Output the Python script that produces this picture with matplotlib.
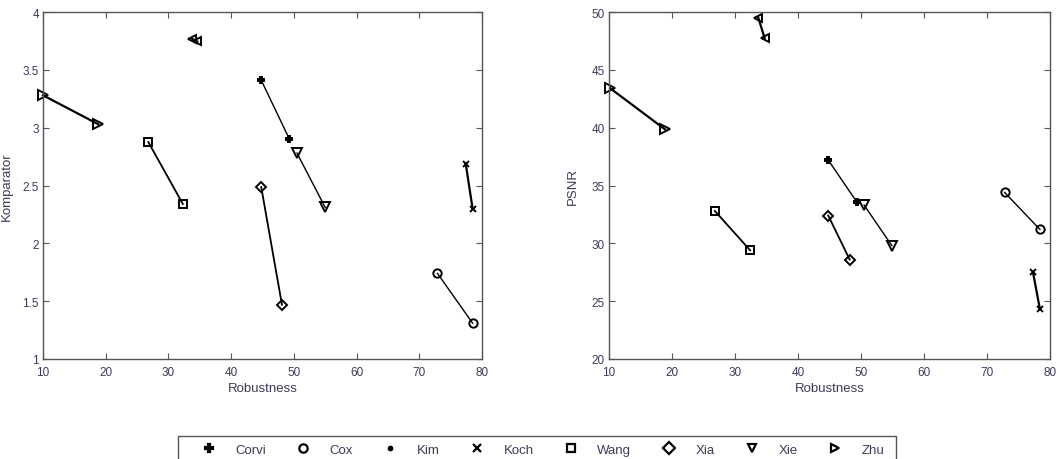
import matplotlib
matplotlib.use("Agg")
import matplotlib.pyplot as plt
from matplotlib.lines import Line2D
from matplotlib.patches import Rectangle

plt.rcParams['font.family'] = ['Liberation Sans', 'DejaVu Sans']

methods = ["Corvi", "Cox", "Kim", "Koch", "Wang", "Xia", "Xie", "Zhu"]

# robustness (x) start/end for each method, both panels
rob_left = {
    "Corvi": [44.8, 49.3], "Cox": [72.9, 78.5], "Kim": [33.7, 34.6], "Koch": [77.4, 78.5],
    "Wang": [26.8, 32.3], "Xia": [44.8, 48.1], "Xie": [50.5, 55.0], "Zhu": [10.0, 18.8],
}
komparator = {
    "Corvi": [3.41, 2.90], "Cox": [1.74, 1.31], "Kim": [3.77, 3.745], "Koch": [2.69, 2.30],
    "Wang": [2.875, 2.34], "Xia": [2.486, 1.47], "Xie": [2.78, 2.31], "Zhu": [3.28, 3.03],
}
rob_right = {
    "Corvi": [44.8, 49.3], "Cox": [72.8, 78.4], "Kim": [33.7, 34.7], "Koch": [77.3, 78.4],
    "Wang": [26.8, 32.4], "Xia": [44.8, 48.2], "Xie": [50.5, 54.9], "Zhu": [10.2, 18.9],
}
psnr = {
    "Corvi": [37.2, 33.6], "Cox": [34.4, 31.2], "Kim": [49.5, 47.75], "Koch": [27.5, 24.3],
    "Wang": [32.8, 29.4], "Xia": [32.4, 28.6], "Xie": [33.3, 29.8], "Zhu": [43.4, 39.85],
}

x_ticks = [10, 20, 30, 40, 50, 60, 70, 80]
y_ticks_left = [1, 1.5, 2, 2.5, 3, 3.5, 4]
y_ticks_right = [20, 25, 30, 35, 40, 45, 50]

# plot markers (Kim drawn as left triangles in the plot, dot in legend)
plot_marker = {"Corvi": "P", "Cox": "o", "Kim": "<", "Koch": "x", "Wang": "s",
               "Xia": "D", "Xie": "v", "Zhu": ">"}
legend_marker = {"Corvi": "P", "Cox": "o", "Kim": ".", "Koch": "x", "Wang": "s",
                 "Xia": "D", "Xie": "v", "Zhu": ">"}
msize = {"Corvi": 5, "Cox": 6, "Kim": 6, "Koch": 4, "Wang": 6, "Xia": 5.5, "Xie": 7, "Zhu": 7}
lwidth = {"Corvi": 1.0, "Cox": 1.0, "Kim": 1.6, "Koch": 1.6, "Wang": 1.3, "Xia": 1.3,
          "Xie": 1.0, "Zhu": 1.6}

W, H = 1062, 460
fig = plt.figure(figsize=(W / 100, H / 100), dpi=100)
ax1 = fig.add_axes([43 / W, 100 / H, 439 / W, 347 / H])
ax2 = fig.add_axes([609 / W, 100 / H, 441 / W, 347 / H])

tick_col = '#3c3c5a'
spine_col = '#555555'

def draw(ax, xs, ys, yticks, ylabel, ylpad):
    for m in methods:
        mk = plot_marker[m]
        filled = mk in ("P", "x", ".")
        ax.plot(xs[m], ys[m], color='black', lw=lwidth[m], marker=mk, ms=msize[m],
                mfc='black' if filled else 'none', mec='black', mew=1.4, clip_on=False)
    ax.set_xlim(10, 80)
    ax.set_ylim(yticks[0], yticks[-1])
    ax.set_xticks(x_ticks)
    ax.set_yticks(yticks)
    ax.set_yticklabels([f"{t:g}" for t in yticks])
    ax.tick_params(direction='in', top=True, right=True, length=4, width=0.8,
                   labelsize=8.5, colors=spine_col, labelcolor=tick_col)
    ax.tick_params(axis='x', pad=5)
    ax.tick_params(axis='y', pad=3)
    for s in ax.spines.values():
        s.set_color(spine_col)
        s.set_linewidth(1.0)
    ax.set_xlabel("Robustness", fontsize=9.5, color=tick_col, labelpad=3)
    ax.set_ylabel(ylabel, fontsize=9.5, color=tick_col, labelpad=ylpad)

draw(ax1, rob_left, komparator, y_ticks_left, "Komparator", 7)
draw(ax2, rob_right, psnr, y_ticks_right, "PSNR", 9)

handles = []
for m in methods:
    mk = legend_marker[m]
    filled = mk in ("P", "x", ".")
    handles.append(Line2D([], [], ls='none', marker=mk, ms=6 if mk != "." else 5,
                          color='black', mfc='black' if filled else 'none',
                          mec='black', mew=1.6))
leg = fig.legend(handles, methods, loc='lower left',
                 bbox_to_anchor=(198 / W, -1 / H, 690 / W, 24 / H),
                 mode='expand', ncol=8, frameon=False,
                 handlelength=1.0, handletextpad=1.5, borderaxespad=0,
                 fontsize=9.5, borderpad=0.3)
for t in leg.get_texts():
    t.set_color(tick_col)

# legend frame, extending past the bottom edge as in the reference
fig.patches.append(Rectangle((178 / W, -5 / H), 718 / W, 28 / H,
                             transform=fig.transFigure, fill=False,
                             edgecolor=spine_col, lw=1.0))

fig.savefig("out.png", dpi=100)
